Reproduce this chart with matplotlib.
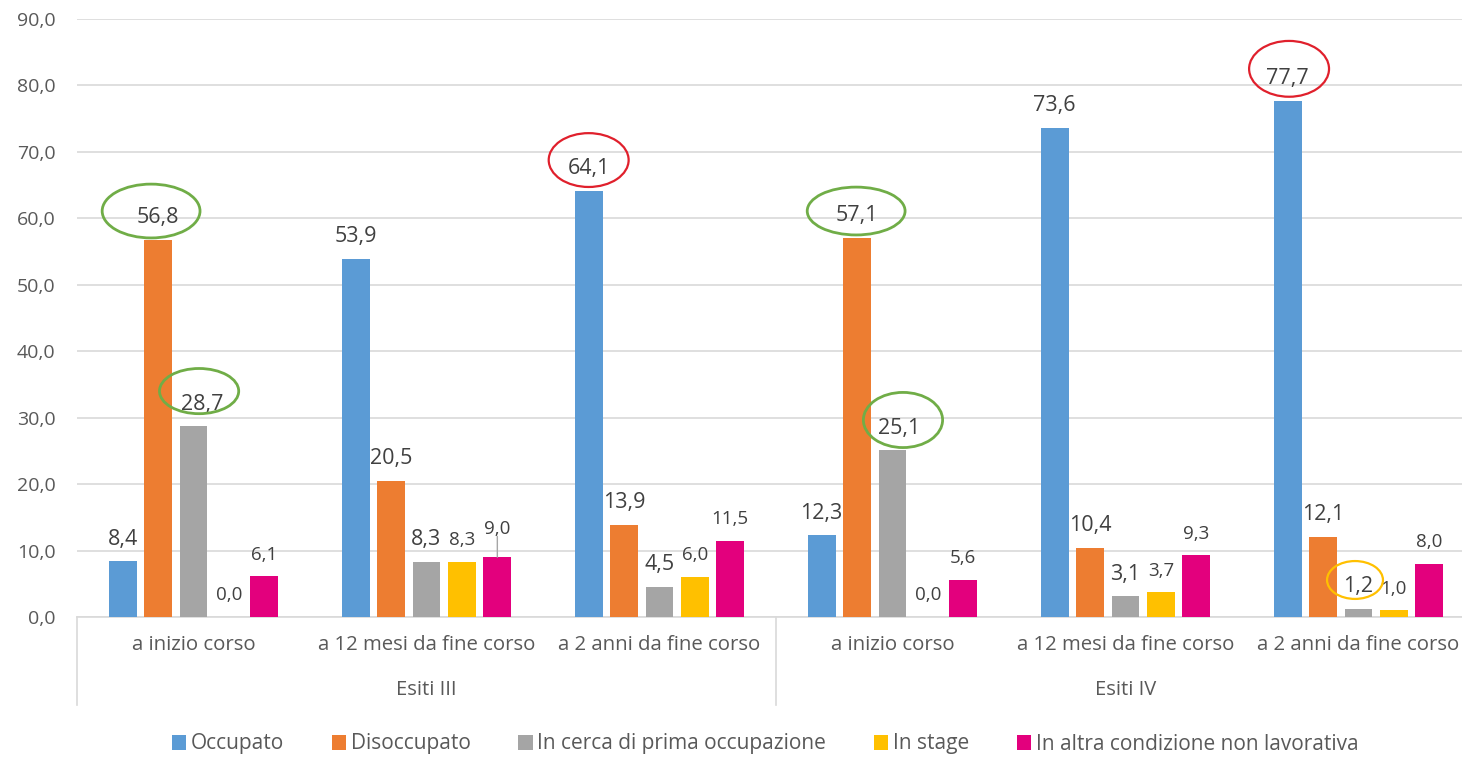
import matplotlib
matplotlib.use("Agg")
import matplotlib.pyplot as plt
from matplotlib.patches import Ellipse, Patch
from matplotlib.transforms import blended_transform_factory
import numpy as np

plt.rcParams['font.family'] = ['Open Sans', 'DejaVu Sans']

categories = ["a inizio corso", "a 12 mesi da fine corso", "a 2 anni da fine corso",
              "a inizio corso", "a 12 mesi da fine corso", "a 2 anni da fine corso"]
groups = ["Esiti III", "Esiti IV"]
series_names = ["Occupato", "Disoccupato", "In cerca di prima occupazione",
                "In stage", "In altra condizione non lavorativa"]
occupato = [8.4, 53.9, 64.1, 12.3, 73.6, 77.7]
disoccupato = [56.8, 20.5, 13.9, 57.1, 10.4, 12.1]
in_cerca = [28.7, 8.3, 4.5, 25.1, 3.1, 1.2]
in_stage = [0.0, 8.3, 6.0, 0.0, 3.7, 1.0]
altra = [6.1, 9.0, 11.5, 5.6, 9.3, 8.0]
yticks = [0, 10, 20, 30, 40, 50, 60, 70, 80, 90]

series = [occupato, disoccupato, in_cerca, in_stage, altra]
colors = ["#5B9BD5", "#ED7D31", "#A5A5A5", "#FFC000", "#E3007D"]
label_sizes = [15.5, 15.5, 15.5, 13.5, 13.5]
text_color = "#595959"

fig = plt.figure(figsize=(14.62, 7.58), dpi=100)
ax = fig.add_axes([77/1462, 1-617/758, (1475-77)/1462, (617-19)/758])

# label offsets (points) for specific labels: (series, category) -> (dx, dy extra)
label_shift = {(2, 0): (6.5, 0), (2, 3): (5, 0), (4, 1): (0, 5)}

x = np.arange(len(categories))
step = 0.152
width = 0.12
for i, (vals, col) in enumerate(zip(series, colors)):
    xs = x + (i - 2) * step
    ax.bar(xs, vals, width=width, color=col, zorder=3)
    for j, (xx, v) in enumerate(zip(xs, vals)):
        dx, extra = label_shift.get((i, j), (0, 0))
        if (i, j) == (4, 1):
            ax.annotate("", xy=(xx, v), xytext=(0, extra + 10), textcoords="offset points",
                        arrowprops=dict(arrowstyle="-", color="#A6A6A6", lw=1, shrinkA=0, shrinkB=0))
        ax.annotate(f"{v:.1f}".replace(".", ","), xy=(xx, v), xytext=(dx, 12 + extra),
                    textcoords="offset points", ha="center", va="baseline",
                    fontsize=label_sizes[i], color="#404040", zorder=5)

# highlight ellipses: (series idx, category idx, color, dx(data), dy(data), w(data), h(data), lw)
highlights = [
    (1, 0, "#70AD47", -0.030, 4.3, 0.42, 8.1, 2.0),
    (2, 0, "#70AD47", 0.024, 5.3, 0.34, 6.8, 2.0),
    (1, 3, "#70AD47", -0.004, 4.0, 0.42, 7.2, 2.0),
    (2, 3, "#70AD47", 0.045, 4.55, 0.34, 8.3, 2.0),
    (0, 2, "#E0202C", 0.0, 4.67, 0.343, 8.1, 1.6),
    (0, 5, "#E0202C", 0.006, 4.8, 0.343, 8.4, 1.6),
    (2, 5, "#FFC000", -0.015, 4.37, 0.24, 5.7, 1.6),
]
for si, ci, col, dx, dy, w, h, lw in highlights:
    cx = x[ci] + (si - 2) * step + dx
    cy = series[si][ci] + dy
    ax.add_patch(Ellipse((cx, cy), w, h, fill=False, edgecolor=col, lw=lw, zorder=6, clip_on=False))

ax.set_xlim(-0.5, len(categories) - 0.5)
ax.set_ylim(0, 90)
ax.set_yticks(yticks)
ax.set_yticklabels([f"{t:.1f}".replace(".", ",") for t in yticks], fontsize=14, color=text_color)
ax.tick_params(axis="y", length=0, pad=15.5)
ax.set_xticks([])
ax.grid(axis="y", color="#D9D9D9", lw=1.2, zorder=0)
for s in ["top", "right", "left"]:
    ax.spines[s].set_visible(False)
ax.spines["bottom"].set_color("#D9D9D9")
ax.spines["bottom"].set_linewidth(1.2)

trans = blended_transform_factory(ax.transData, fig.transFigure)
for xi, c in zip(x, categories):
    ax.text(xi, 1 - 645/758, c, transform=trans, ha="center", va="center",
            fontsize=14.7, color=text_color)
ngroup = len(categories) // len(groups)
for gi, g in enumerate(groups):
    gc = gi * ngroup + (ngroup - 1) / 2
    ax.text(gc, 1 - 690/758, g, transform=trans, ha="center", va="center",
            fontsize=14.5, color=text_color)
for b in range(len(groups) + 1):
    bx = b * ngroup - 0.5
    ax.plot([bx, bx], [1 - 617/758, 1 - 705/758], transform=trans, color="#D9D9D9",
            lw=1.2, clip_on=False)

handles = [Patch(facecolor=c, edgecolor="none") for c in colors]
fig.legend(handles, series_names, loc="center", bbox_to_anchor=(765/1462, 1 - 744/758),
           ncol=5, frameon=False, fontsize=15, handlelength=0.7, handleheight=0.7,
           handletextpad=0.2, columnspacing=2.3, labelcolor=text_color)

fig.savefig("out.png", dpi=100)
